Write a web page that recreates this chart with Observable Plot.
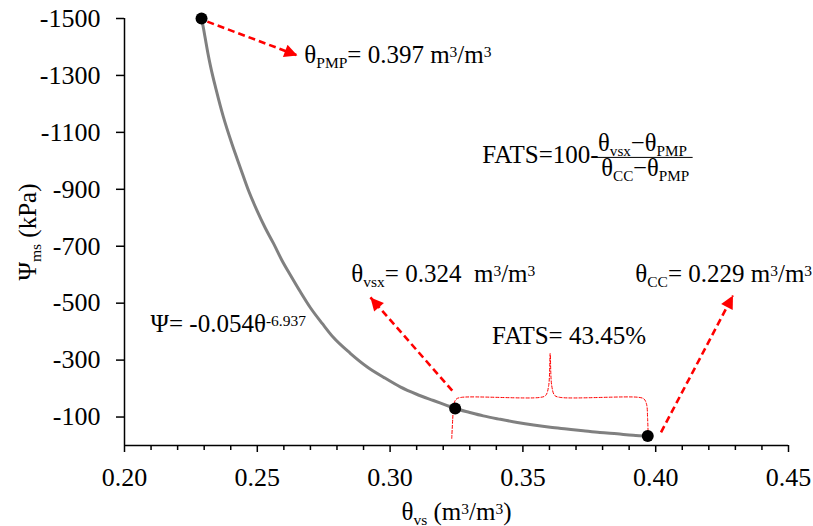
<!DOCTYPE html>
<html>
<head>
<meta charset="utf-8">
<script src="https://cdn.jsdelivr.net/npm/d3@7"></script>
<script src="https://cdn.jsdelivr.net/npm/@observablehq/plot@0.6"></script>
<style>
  html, body { margin: 0; padding: 0; background: #fff; }
  #chart svg, #chart svg text, #chart svg tspan { font-family: "Liberation Serif", "Times New Roman", "DejaVu Serif", serif !important; }
  #chart svg text.richtext { white-space: pre; }
</style>
</head>
<body>
<div id="chart"></div>
<script>
// ---- data ----
const theta = [0.229, 0.2298, 0.2305, 0.2314, 0.2324, 0.2345, 0.2372, 0.2405, 0.2436, 0.2468, 0.2499, 0.2530,
  0.2561, 0.2593, 0.2625, 0.2662, 0.2700, 0.2745, 0.2786, 0.2850, 0.2914, 0.2975,
  0.3038, 0.3100, 0.3163, 0.3210, 0.3245, 0.3300, 0.3351, 0.3415, 0.3479, 0.3540,
  0.3603, 0.3665, 0.3727, 0.3790, 0.3855, 0.3915, 0.397];
const psi = [-1500, -1462, -1425, -1378, -1332, -1250, -1155, -1058, -976, -893, -825, -764,
  -710, -650, -598, -540, -484, -428, -380, -324, -276, -240,
  -206, -180, -158, -142, -130, -116, -104, -92, -81, -72,
  -64, -58, -52, -46, -41, -36, -33];

const keyTheta = [0.229, 0.3245, 0.397];
const keyPsi = [-1500, -130, -33];

const xMajor = [0.20, 0.25, 0.30, 0.35, 0.40, 0.45];
const xMinor = [0.21, 0.22, 0.23, 0.24, 0.26, 0.27, 0.28, 0.29, 0.31, 0.32, 0.33, 0.34,
  0.36, 0.37, 0.38, 0.39, 0.41, 0.42, 0.43, 0.44];
const yTicks = [-100, -300, -500, -700, -900, -1100, -1300, -1500];

// annotation arrows (data coordinates)
const arrowX1 = [0.2312, 0.3234, 0.4020];
const arrowY1 = [-1489, -193, -46];
const arrowX2 = [0.2651, 0.2926, 0.4291];
const arrowY2 = [-1370, -520, -527];

// bracket under "FATS" label (data coordinates)
const braceX = [0.32321, 0.32359, 0.32397, 0.32491, 0.32679, 0.35651, 0.35858, 0.35971, 0.36027,
  0.36084, 0.36197, 0.36403, 0.39375, 0.39564, 0.39658, 0.39695, 0.39714];
const braceY = [-25, -95, -144, -163, -169, -169, -176, -211, -323,
  -211, -176, -169, -169, -163, -144, -95, -46];

// labels (_{} = subscript, ^{} = superscript)
const labelText = [
  "θ_{PMP}= 0.397 m^{3}/m^{3}",
  "θ_{vsx}= 0.324  m^{3}/m^{3}",
  "θ_{CC}= 0.229 m^{3}/m^{3}",
  "FATS= 43.45%",
  "Ψ= -0.054θ^{-6.937}",
  "FATS=100-"
];
const labelX = [0.2677, 0.2854, 0.3923, 0.3384, 0.2098, 0.3347];
const labelY = [-1342, -573, -573, -358, -397, -994];

const fracText = ["θ_{vsx}−θ_{PMP}", "θ_{CC}−θ_{PMP}"];
const fracX = [0.3783, 0.3795];
const fracY = [-1034, -946];
const fracBarX = [0.3780, 0.4141];
const fracBarY = -1012;

const xTitle = "θ_{vs} (m^{3}/m^{3})";
const yTitle = "Ψ_{ms} (kPa)";

// ---- chart ----
const curve = theta.map((t, i) => ({t, p: psi[i]}));
const keys = keyTheta.map((t, i) => ({t, p: keyPsi[i]}));
const arrows = arrowX1.map((x, i) => ({x1: x, y1: arrowY1[i], x2: arrowX2[i], y2: arrowY2[i]}));
const brace = braceX.map((x, i) => ({x, y: braceY[i]}));
const red = "#ff0000";
const serif = "'Liberation Serif', 'Times New Roman', serif";

const chart = Plot.plot({
  width: 813,
  height: 526,
  marginLeft: 124,
  marginRight: 25,
  marginTop: 18,
  marginBottom: 81,
  style: {fontFamily: serif, fontSize: "25px", background: "#fff", color: "#000"},
  x: {domain: [0.2, 0.45]},
  y: {domain: [0, -1500]},
  marks: [
    Plot.axisX(xMinor, {tickSize: 5, tickFormat: () => "", label: null, strokeWidth: 1.5}),
    Plot.axisX(xMajor, {tickSize: 7, tickPadding: 15, tickFormat: d => d.toFixed(2), label: null, strokeWidth: 1.5, fontSize: 26}),
    Plot.axisY(yTicks, {tickSize: 8, tickPadding: 16, tickFormat: d => String(d), label: null, strokeWidth: 1.5, fontSize: 26}),
    Plot.ruleX([0.2], {stroke: "#000", strokeWidth: 1.5}),
    Plot.ruleY([0], {stroke: "#000", strokeWidth: 1.5}),
    Plot.line(curve, {x: "t", y: "p", stroke: "#808080", strokeWidth: 3, curve: "monotone-x"}),
    Plot.line(brace, {x: "x", y: "y", stroke: red, strokeWidth: 1, strokeDasharray: "3,2", curve: "catmull-rom"}),
    Plot.link(arrows, {x1: "x1", y1: "y1", x2: "x2", y2: "y2", stroke: red, strokeWidth: 2.6, strokeDasharray: "7,4", className: "redarrow"}),
    Plot.dot(keys, {x: "t", y: "p", r: 6, fill: "#000"}),
    Plot.text(labelText, {x: (d, i) => labelX[i], y: (d, i) => labelY[i], text: d => d, textAnchor: "start", lineAnchor: "bottom", fontSize: 25, fill: "#000", className: "rich"}),
    Plot.text(fracText, {x: (d, i) => fracX[i], y: (d, i) => fracY[i], text: d => d, textAnchor: "start", lineAnchor: "bottom", fontSize: 24.5, fill: "#000", className: "rich"}),
    Plot.ruleY([fracBarY], {x1: fracBarX[0], x2: fracBarX[1], stroke: "#000", strokeWidth: 1}),
    Plot.text([xTitle], {frameAnchor: "bottom", dy: 74, text: d => d, textAnchor: "middle", lineAnchor: "bottom", fontSize: 25, fill: "#000", className: "rich"}),
    Plot.text([yTitle], {frameAnchor: "left", dx: -89, rotate: -90, text: d => d, textAnchor: "middle", lineAnchor: "bottom", fontSize: 25, fill: "#000", className: "rich"})
  ]
});

document.getElementById("chart").appendChild(chart);

// arrowheads
const svgNS = "http://www.w3.org/2000/svg";
const defs = document.createElementNS(svgNS, "defs");
const marker = document.createElementNS(svgNS, "marker");
marker.setAttribute("id", "redhead");
marker.setAttribute("viewBox", "0 0 10 10");
marker.setAttribute("refX", "10");
marker.setAttribute("refY", "5");
marker.setAttribute("markerWidth", "17");
marker.setAttribute("markerHeight", "13");
marker.setAttribute("markerUnits", "userSpaceOnUse");
marker.setAttribute("orient", "auto");
const mp = document.createElementNS(svgNS, "path");
mp.setAttribute("d", "M0,0L10,5L0,10Z");
mp.setAttribute("fill", red);
mp.setAttribute("stroke", "none");
marker.appendChild(mp);
defs.appendChild(marker);
chart.insertBefore(defs, chart.firstChild);
d3.select(chart).selectAll("g.redarrow path, g.redarrow line").attr("marker-end", "url(#redhead)");

// rich text: subscripts / superscripts
function richify(el) {
  const s = el.textContent;
  while (el.firstChild) el.removeChild(el.firstChild);
  el.classList.add("richtext");
  const re = /([_^])\{([^}]*)\}|([^_^]+)/g;
  let m, shift = 0;
  while ((m = re.exec(s))) {
    const t = document.createElementNS(svgNS, "tspan");
    let target = 0;
    if (m[1] === "_") { target = 5; t.setAttribute("font-size", "0.62em"); t.textContent = m[2]; }
    else if (m[1] === "^") { target = -6; t.setAttribute("font-size", "0.62em"); t.textContent = m[2]; }
    else { t.textContent = m[3]; }
    if (target !== shift) t.setAttribute("dy", target - shift);
    shift = target;
    el.appendChild(t);
  }
}
d3.select(chart).selectAll("g.rich text").each(function() { richify(this); });
</script>
</body>
</html>
